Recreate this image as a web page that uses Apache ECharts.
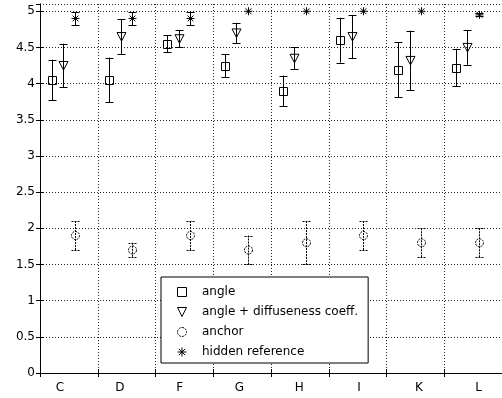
<!DOCTYPE html>
<html>
<head>
<meta charset="utf-8">
<script src="https://cdn.jsdelivr.net/npm/echarts@6/dist/echarts.min.js"></script>
<style>html,body{margin:0;padding:0;background:#fff;}#c{width:502px;height:398px;}</style>
</head>
<body>
<div id="c"></div>
<script>
const categories = ['C', 'D', 'F', 'G', 'H', 'I', 'K', 'L'];
const seriesNames = ['angle', 'angle + diffuseness coeff.', 'anchor', 'hidden reference'];
const yTicks = [0, 0.5, 1, 1.5, 2, 2.5, 3, 3.5, 4, 4.5, 5];
const angleMean = [4.05, 4.05, 4.55, 4.25, 3.90, 4.60, 4.19, 4.22];
const angleErr  = [0.28, 0.31, 0.12, 0.16, 0.21, 0.31, 0.38, 0.26];
const diffMean  = [4.25, 4.65, 4.62, 4.70, 4.35, 4.65, 4.32, 4.50];
const diffErr   = [0.30, 0.24, 0.12, 0.14, 0.15, 0.30, 0.41, 0.24];
const anchorMean = [1.90, 1.70, 1.90, 1.70, 1.80, 1.90, 1.80, 1.80];
const anchorErr  = [0.20, 0.10, 0.20, 0.20, 0.30, 0.20, 0.20, 0.20];
const hiddenMean = [4.90, 4.90, 4.90, 5.00, 5.00, 5.00, 5.00, 4.95];
const hiddenErr  = [0.09, 0.09, 0.09, 0.00, 0.00, 0.00, 0.00, 0.02];

const FONT = '"DejaVu Sans", sans-serif';
const chart = echarts.init(document.getElementById('c'), null, {renderer: 'canvas'});

function mk(means, errs) {
  return categories.map((_, i) => [i, means[i], errs[i]]);
}

function makeRender(offset, shape, dashed) {
  return function (params, api) {
    const i = api.value(0), m = api.value(1), e = api.value(2);
    const c = api.coord([i + offset, m]);
    const t = api.coord([i + offset, m + e]);
    const b = api.coord([i + offset, m - e]);
    const x = Math.round(c[0]) + 0.5;
    const y = c[1];
    const style = {stroke: '#000', lineWidth: 1, fill: null, lineDash: dashed ? [2, 1] : null};
    const ch = [];
    if (e > 0) {
      ch.push({type: 'line', shape: {x1: x, y1: t[1], x2: x, y2: b[1]}, style});
      ch.push({type: 'line', shape: {x1: x - 4, y1: Math.round(t[1]) + 0.5, x2: x + 4, y2: Math.round(t[1]) + 0.5}, style});
      ch.push({type: 'line', shape: {x1: x - 4, y1: Math.round(b[1]) + 0.5, x2: x + 4, y2: Math.round(b[1]) + 0.5}, style});
    }
    if (shape === 'square') {
      ch.push({type: 'rect', shape: {x: x - 4, y: Math.round(y) - 3.5, width: 8, height: 8}, style});
    } else if (shape === 'tri') {
      ch.push({type: 'polygon', shape: {points: [[x - 4.5, y - 4], [x + 4.5, y - 4], [x, y + 4.5]]}, style});
    } else if (shape === 'circle') {
      ch.push({type: 'circle', shape: {cx: x, cy: y, r: 4}, style});
    } else if (shape === 'star') {
      const r = 4, d = 2.9;
      const s2 = {stroke: '#000', lineWidth: 1};
      ch.push({type: 'line', shape: {x1: x, y1: y - r, x2: x, y2: y + r}, style: s2});
      ch.push({type: 'line', shape: {x1: x - r, y1: y, x2: x + r, y2: y}, style: s2});
      ch.push({type: 'line', shape: {x1: x - d, y1: y - d, x2: x + d, y2: y + d}, style: s2});
      ch.push({type: 'line', shape: {x1: x + d, y1: y - d, x2: x - d, y2: y + d}, style: s2});
    }
    return {type: 'group', children: ch};
  };
}

function customSeries(name, data, offset, shape, dashed) {
  return {
    type: 'custom', name, xAxisIndex: 0, yAxisIndex: 0, clip: false,
    itemStyle: {color: '#000'},
    encode: {x: 0, y: 1},
    renderItem: makeRender(offset, shape, dashed),
    data
  };
}

const dotted = {color: '#222', width: 1, type: [1, 2]};
const axisLine = {show: true, lineStyle: {color: '#000', width: 1}};
const tick = {show: true, inside: true, length: 4, lineStyle: {color: '#000'}};

const option = {
  backgroundColor: '#fff',
  animation: false,
  grid: [
    {left: 40, right: 0, top: 4, bottom: 25, show: false},
    {left: 60, right: 23.3, top: 4, bottom: 25, show: false}
  ],
  xAxis: [
    {type: 'value', gridIndex: 0, min: 0, max: 8, interval: 1, position: 'bottom',
      axisLine, axisTick: tick, axisLabel: {show: false}, splitLine: {show: true, lineStyle: dotted}},
    {type: 'value', gridIndex: 0, min: 0, max: 8, interval: 1, position: 'top',
      axisLine, axisTick: tick, axisLabel: {show: false}, splitLine: {show: false}},
    {type: 'category', gridIndex: 1, data: categories, boundaryGap: false, position: 'bottom',
      axisLine: {show: false}, axisTick: {show: false}, splitLine: {show: false},
      axisLabel: {show: true, margin: 9, color: '#000', fontFamily: FONT, fontSize: 12}}
  ],
  yAxis: [
    {type: 'value', gridIndex: 0, min: 0, max: 5.1, interval: 0.5, position: 'left',
      axisLine, axisTick: tick,
      axisLabel: {show: true, showMaxLabel: false, margin: 5, color: '#000', fontFamily: FONT, fontSize: 12,
        formatter: v => (yTicks.indexOf(v) >= 0 ? String(v) : '')},
      splitLine: {show: true, lineStyle: dotted}},
    {type: 'value', gridIndex: 0, min: 0, max: 5.1, interval: 0.5, position: 'right',
      axisLine, axisTick: tick, axisLabel: {show: false}, splitLine: {show: false}},
    {type: 'value', gridIndex: 1, show: false}
  ],
  legend: {
    show: true, orient: 'vertical', left: 161, top: 277,
    padding: [9, 10, 5, 16], itemGap: 8, itemWidth: 30, itemHeight: 9,
    backgroundColor: '#fff', borderColor: '#000', borderWidth: 1,
    textStyle: {color: '#000', fontFamily: FONT, fontSize: 12},
    selectedMode: false,
    data: [
      {name: seriesNames[0], icon: 'path://M0,0L10,0L10,10L0,10Z',
        itemStyle: {color: 'transparent', borderColor: '#000', borderWidth: 1}},
      {name: seriesNames[1], icon: 'path://M0,0L10,0L5,10Z',
        itemStyle: {color: 'transparent', borderColor: '#000', borderWidth: 1}},
      {name: seriesNames[2], icon: 'path://M5,0A5,5,0,1,1,5,10A5,5,0,1,1,5,0Z',
        itemStyle: {color: 'transparent', borderColor: '#000', borderWidth: 1, borderType: [2, 1]}},
      {name: seriesNames[3], icon: 'path://M5,0L5,10M0,5L10,5M1.5,1.5L8.5,8.5M8.5,1.5L1.5,8.5',
        itemStyle: {color: 'transparent', borderColor: '#000', borderWidth: 1}}
    ]
  },
  series: [
    customSeries(seriesNames[0], mk(angleMean, angleErr), 0.2, 'square', false),
    customSeries(seriesNames[1], mk(diffMean, diffErr), 0.4, 'tri', false),
    customSeries(seriesNames[2], mk(anchorMean, anchorErr), 0.6, 'circle', true),
    customSeries(seriesNames[3], mk(hiddenMean, hiddenErr), 0.6, 'star', false)
  ]
};
chart.setOption(option);
</script>
</body>
</html>
